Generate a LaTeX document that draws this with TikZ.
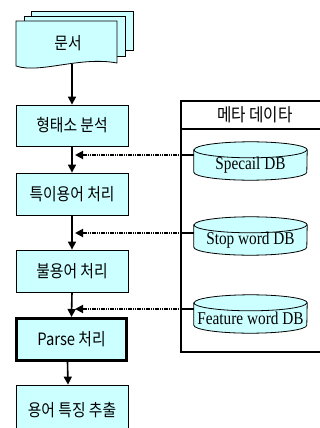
\documentclass[tikz,border=0pt]{standalone}
\usepackage{fontspec}
\newfontfamily\krfont[FakeStretch=0.87]{Noto Sans CJK KR}
\newfontfamily\tmfont[FakeStretch=0.85]{Liberation Serif}
\usetikzlibrary{arrows.meta,calc,backgrounds}
\definecolor{boxfill}{RGB}{204,255,255}
\newcommand\dbcyl[1]{%
  \path[draw=black,line width=0.8pt,fill=boxfill] (#1.north west) -- ([yshift=8pt]#1.south west)
    arc[start angle=180,end angle=360,x radius=56.5pt,y radius=8pt] -- (#1.north east)
    arc[start angle=0,end angle=180,x radius=56.5pt,y radius=8pt] -- cycle;
  \draw[line width=0.8pt] (#1.north west) arc[start angle=180,end angle=360,x radius=56.5pt,y radius=8pt];}
\begin{document}
\begin{tikzpicture}[x=1pt,y=-1pt,
  procbox/.style={draw=black,line width=0.8pt,fill=boxfill,minimum width=112pt,minimum height=41pt,inner sep=0pt,font=\krfont\fontsize{17}{17}\selectfont},
  flow/.style={line width=1.6pt,-{Triangle[length=8pt,width=8pt]}},
  feed/.style={line width=1.8pt,draw=black,dash pattern=on 1.2pt off 0.6pt,-{Triangle[length=8pt,width=8pt,fill=black]}},
  link/.style={line width=1.4pt},
  dbtext/.style={font=\tmfont\fontsize{18}{18}\selectfont,inner sep=0pt,minimum width=113pt,minimum height=30pt},
  sheet/.style={draw=black,line width=0.8pt,fill=boxfill}]
\useasboundingbox (0,0) rectangle (320,428);

% document stack
\path[sheet] (31,11) rectangle (133,50);
\path[sheet] (24,16) rectangle (125,56);
\path[sheet] (16,21) -- (117,21) -- (117,63) .. controls (80,56) and (40,74) .. (16,66) -- cycle;
\node[font=\krfont\fontsize{17}{17}\selectfont] (doc) at (68,43) {문서};
\coordinate (docb) at (72,64);

% process boxes
\node[procbox] (b1) at (72,125.5) {형태소 분석};
\node[procbox,minimum height=42pt] (b2) at (72,194) {특이용어 처리};
\node[procbox,minimum height=42pt] (b3) at (72,271) {불용어 처리};
\node[procbox,line width=2.6pt,minimum width=110.4pt,minimum height=42.4pt] (b4) at (71.5,339.5) {Parse 처리};
\node[procbox,minimum height=51pt] (b5) at (72,410.5) {용어 특징 추출};

\draw[flow] (docb) -- (b1.north);
\draw[flow] (b1.south) -- (b2.north);
\draw[flow] (b2.south) -- (b3.north);
\draw[flow] (b3.south) -- (b4.north);
\draw[flow] ([xshift=-4pt]b4.south) -- ([xshift=-4pt]b5.north);

% meta data frame
\coordinate (fTL) at (181,101);
\coordinate (fTR) at (320,101);
\coordinate (fBL) at (181,352);
\coordinate (fBR) at (320,352);
\coordinate (hL) at (181,129);
\coordinate (hR) at (320,129);
\draw[line width=1.3pt] (fTR) -- (fTL) -- (fBL) -- (fBR);
\draw[line width=1.3pt] (hL) -- (hR);
\node[font=\krfont\fontsize{18}{18}\selectfont] (meta) at (255,115) {메타 데이타};

% databases
\node[dbtext] (spec) at (250.5,165) {Specail DB};
\node[dbtext] (stop) at (250.5,240) {Stop word DB};
\node[dbtext] (feat) at (250.5,318) {Feature word DB};
\begin{pgfonlayer}{background}
\dbcyl{spec}
\dbcyl{stop}
\dbcyl{feat}
\end{pgfonlayer}

% feeds
\coordinate (t1) at (75,155);
\coordinate (t2) at (75,233);
\coordinate (t3) at (75,309);
\draw[link] (spec.west |- t1) -- (hL |- t1);
\draw[feed] (hL |- t1) -- (t1);
\draw[link] (stop.west |- t2) -- (hL |- t2);
\draw[feed] (hL |- t2) -- (t2);
\draw[link] (feat.west |- t3) -- (hL |- t3);
\draw[feed] (hL |- t3) -- (t3);
\end{tikzpicture}
\end{document}
